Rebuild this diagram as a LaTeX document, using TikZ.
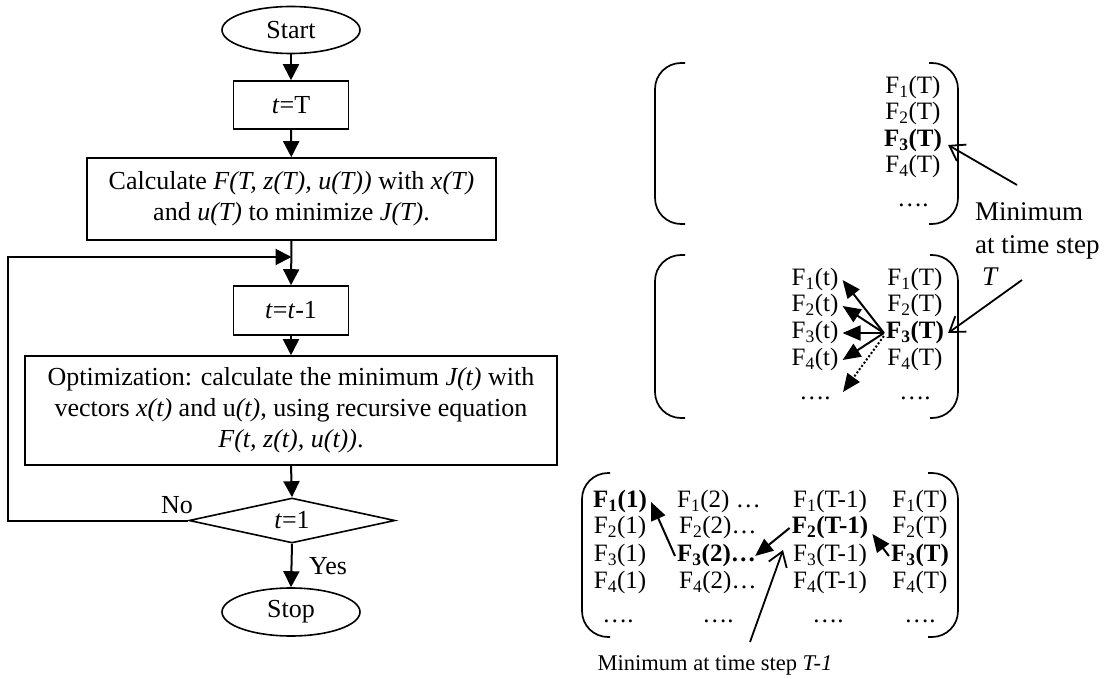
\documentclass[tikz,border=0pt]{standalone}
\usepackage{fontspec}
\setmainfont{Liberation Serif}
\usetikzlibrary{arrows.meta,shapes.geometric}
\begin{document}
\begin{tikzpicture}[x=1pt,y=-1pt,
  fc/.style={font=\fontsize{26}{31}\selectfont},
  box/.style={draw, line width=1.6pt, inner sep=0pt, fc, align=center},
  term/.style={ellipse, draw, line width=1.6pt, inner sep=0pt, fc, minimum width=138pt, minimum height=47pt},
  flow/.style={line width=2pt, -{Triangle[length=16pt,width=16pt]}},
  ent/.style={font=\fontsize{25}{30}\selectfont, inner sep=2pt, text height=17pt, text depth=6pt},
  marr/.style={line width=2pt, -{Triangle[length=18pt,width=15pt]}},
  oarr/.style={line width=1.8pt, -{Straight Barb[length=14pt,width=19pt,line width=1.8pt]}},
  paren/.style={line width=1.7pt, rounded corners=26pt},
  lbl/.style={font=\fontsize{27}{32}\selectfont, inner sep=0pt},
  lblb/.style={font=\fontsize{22.5}{27}\selectfont, inner sep=0pt}
]
\useasboundingbox (0,0) rectangle (1108,679);

% ---------- flowchart ----------
\node[term] (start) at (291,30) {Start};
\node[box, minimum width=115pt, minimum height=48pt] (tT) at (291,105) {\textit{t}=T};
\node[box, minimum width=409pt, minimum height=82pt] (calc) at (291.5,199)
  {Calculate \textit{F(T, z(T), u(T))} with \textit{x(T)}\\ and \textit{u(T)} to minimize \textit{J(T)}.};
\node[box, minimum width=115pt, minimum height=49pt] (tt1) at (291,310.5) {\textit{t}=\textit{t}-1};
\node[box, minimum width=532pt, minimum height=109pt] (opt) at (291,410.5)
  {Optimization: calculate the minimum \textit{J(t)} with\\ vectors \textit{x(t)} and u\textit{(t)}, using recursive equation\\ \textit{F(t, z(t), u(t))}.};
\node[diamond, draw, line width=1.6pt, inner sep=0pt, fc, aspect=4.6, minimum width=206pt, minimum height=45pt] (dec) at (292,520.5) {\textit{t}=1};
\node[term, minimum height=48pt] (stop) at (291,612) {Stop};
\coordinate (join) at (291.5,257);

\draw[flow] (start) -- (tT);
\draw[flow] (tT) -- (calc);
\draw[flow] (calc.south) -- (tt1.north);
\draw[flow] (tt1) -- (opt);
\draw[flow] (opt.south) -- (dec.north);
\draw[flow] (dec.south) -- (stop.north);
\draw[flow] (dec.west) -- ++(-180,0) |- (join);
\node[fc] (no) at (177,505) {No};
\node[fc] (yes) at (328,566) {Yes};

% ---------- matrix 1 ----------
\draw[paren] (685,63) -- (655,63) -- (655,224) -- (685,224);
\draw[paren] (929,63) -- (958,63) -- (958,224) -- (929,224);
\node[ent] (a1) at (913,88) {F\textsubscript{1}(T)};
\node[ent] (a2) at (913,114.5) {F\textsubscript{2}(T)};
\node[ent] (a3) at (913,141) {\textbf{F\textsubscript{3}(T)}};
\node[ent] (a4) at (913,167.5) {F\textsubscript{4}(T)};
\node[ent] (a5) at (913,201) {….};

\node[lbl, anchor=west] (lab1a) at (975,212) {Minimum};
\node[lbl, anchor=west] (lab1b) at (975,247) {at time step};
\node[lbl, anchor=west] (lab1c) at (982,277) {\textit{T}};
\coordinate (lt1) at (1017,185);
\coordinate (lt2) at (1022,280);
\draw[oarr] (lt1) -- ([xshift=4pt,yshift=-4pt]a3.east);

% ---------- matrix 2 ----------
\draw[paren] (685,255) -- (655,255) -- (655,418) -- (685,418);
\draw[paren] (930,255) -- (958,255) -- (958,418) -- (930,418);
\node[ent] (b1t) at (815,280) {F\textsubscript{1}(t)};
\node[ent] (b2t) at (815,306) {F\textsubscript{2}(t)};
\node[ent] (b3t) at (815,333) {F\textsubscript{3}(t)};
\node[ent] (b4t) at (815,360) {F\textsubscript{4}(t)};
\node[ent] (b5t) at (815,394) {….};
\node[ent] (b1T) at (915,280) {F\textsubscript{1}(T)};
\node[ent] (b2T) at (915,306) {F\textsubscript{2}(T)};
\node[ent] (b3T) at (915,333) {\textbf{F\textsubscript{3}(T)}};
\node[ent] (b4T) at (915,360) {F\textsubscript{4}(T)};
\node[ent] (b5T) at (915,394) {….};
\coordinate (bdot) at (843,392);
\draw[marr] (b3T.west) -- ([xshift=2pt]b1t.east);
\draw[marr] (b3T.west) -- ([xshift=2pt]b2t.east);
\draw[marr] (b3T.west) -- ([xshift=2pt]b3t.east);
\draw[marr] (b3T.west) -- ([xshift=2pt]b4t.east);
\draw[marr, dotted] ([yshift=-3pt]b3T.west) -- (bdot);
\draw[oarr] (lt2) -- ([xshift=2pt]b3T.east);

% ---------- matrix 3 ----------
\draw[paren] (610,473) -- (582,473) -- (582,637) -- (610,637);
\draw[paren] (928,473) -- (958,473) -- (958,637) -- (928,637);
\node[ent] (c11) at (620,502) {\textbf{F\textsubscript{1}(1)}};
\node[ent] (c21) at (620,528) {F\textsubscript{2}(1)};
\node[ent] (c31) at (620,556) {F\textsubscript{3}(1)};
\node[ent] (c41) at (620,583) {F\textsubscript{4}(1)};
\node[ent] (c51) at (618,617) {….};
\node[ent, anchor=west] (c12) at (675,502) {F\textsubscript{1}(2) …};
\node[ent, anchor=west] (c22) at (677,528) {F\textsubscript{2}(2)…};
\node[ent, anchor=west] (c32) at (675,556) {\textbf{F\textsubscript{3}(2)…}};
\node[ent, anchor=west] (c42) at (677,583) {F\textsubscript{4}(2)…};
\node[ent] (c52) at (718,617) {….};
\node[ent] (c13) at (830,502) {F\textsubscript{1}(T-1)};
\node[ent] (c23) at (830,528) {\textbf{F\textsubscript{2}(T-1)}};
\node[ent] (c33) at (830,556) {F\textsubscript{3}(T-1)};
\node[ent] (c43) at (830,583) {F\textsubscript{4}(T-1)};
\node[ent] (c53) at (828,617) {….};
\node[ent] (c14) at (920,502) {F\textsubscript{1}(T)};
\node[ent] (c24) at (920,528) {F\textsubscript{2}(T)};
\node[ent] (c34) at (920,556) {\textbf{F\textsubscript{3}(T)}};
\node[ent] (c44) at (920,583) {F\textsubscript{4}(T)};
\node[ent] (c54) at (920,617) {….};
\draw[marr] (c32.west) -- ([xshift=2pt]c11.east);
\draw[marr] (c23.west) -- ([xshift=-3pt]c32.east);
\draw[marr] (c34.west) -- ([xshift=2pt,yshift=-6pt]c23.east);

\node[lblb] (lab2) at (715,665) {Minimum at time step \textit{T-1}};
\coordinate (lt3) at (750,642);
\coordinate (lt3tip) at (783,550);
\draw[oarr] (lt3) -- (lt3tip);
\end{tikzpicture}
\end{document}
